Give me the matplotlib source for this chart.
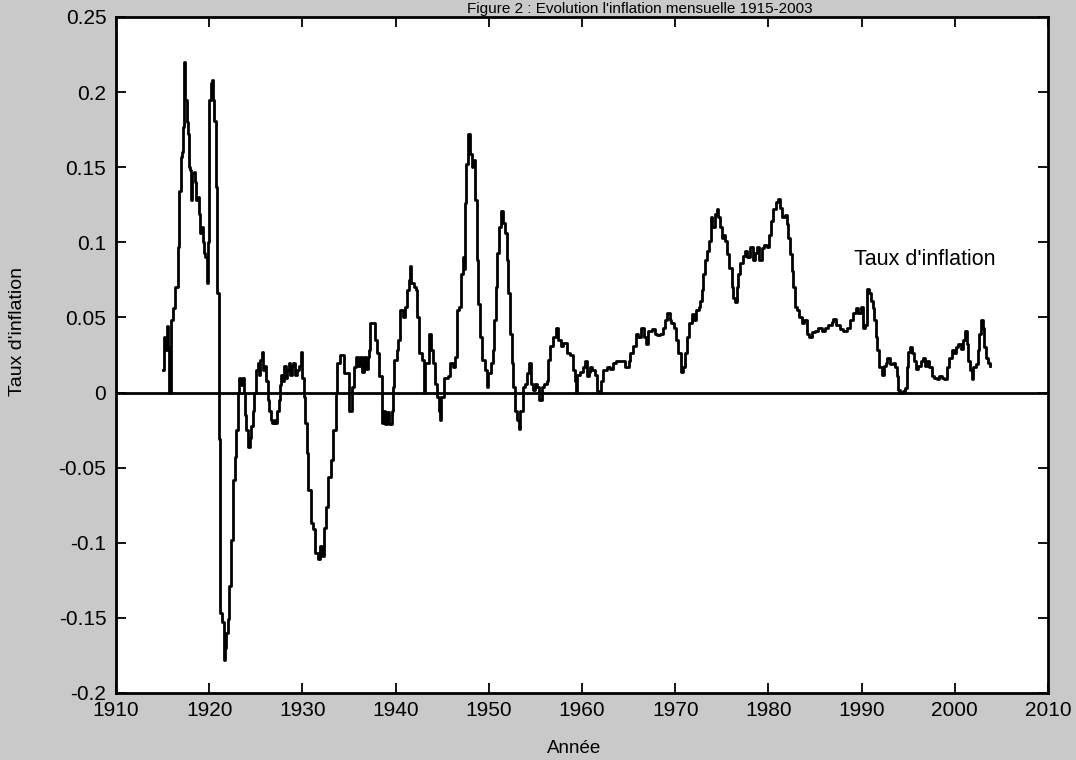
import matplotlib
matplotlib.use("Agg")
import matplotlib.pyplot as plt

# ---- monthly inflation ----
YEARS = [
    1915.00, 1915.15, 1915.30, 1915.45, 1915.60, 1915.70, 1915.85, 1916.10, 1916.35, 1916.60,
    1916.80, 1916.95, 1917.10, 1917.15, 1917.25, 1917.35, 1917.45, 1917.60, 1917.75, 1917.85,
    1917.95, 1918.05, 1918.20, 1918.35, 1918.50, 1918.60, 1918.75, 1918.90, 1919.05, 1919.20,
    1919.30, 1919.45, 1919.60, 1919.75, 1919.85, 1919.92, 1920.00, 1920.15, 1920.30, 1920.45,
    1920.55, 1920.70, 1920.85, 1921.00, 1921.10, 1921.20, 1921.40, 1921.55, 1921.70, 1921.85,
    1922.00, 1922.15, 1922.35, 1922.55, 1922.75, 1922.90, 1923.05, 1923.20, 1923.35, 1923.50,
    1923.70, 1923.85, 1924.00, 1924.20, 1924.35, 1924.50, 1924.65, 1924.80, 1925.00, 1925.20,
    1925.35, 1925.50, 1925.65, 1925.80, 1925.95, 1926.10, 1926.30, 1926.45, 1926.60, 1926.75,
    1926.95, 1927.10, 1927.30, 1927.45, 1927.60, 1927.75, 1927.90, 1928.05, 1928.20, 1928.40,
    1928.55, 1928.70, 1928.85, 1929.00, 1929.20, 1929.40, 1929.60, 1929.80, 1930.00, 1930.15,
    1930.30, 1930.47, 1930.65, 1930.94, 1931.19, 1931.37, 1931.65, 1931.90, 1932.15, 1932.37,
    1932.51, 1932.80, 1933.09, 1933.33, 1933.58, 1933.75, 1934.00, 1934.45, 1935.00, 1935.35,
    1935.50, 1935.75, 1936.00, 1936.20, 1936.40, 1936.60, 1936.80, 1937.00, 1937.10, 1937.25,
    1937.80, 1938.00, 1938.25, 1938.50, 1938.70, 1938.90, 1939.10, 1939.30, 1939.60, 1939.70,
    1939.80, 1940.10, 1940.30, 1940.50, 1940.75, 1941.00, 1941.20, 1941.40, 1941.50, 1941.70,
    1942.00, 1942.20, 1942.30, 1942.50, 1942.80, 1943.00, 1943.15, 1943.45, 1943.60, 1943.80,
    1944.05, 1944.20, 1944.40, 1944.65, 1944.75, 1944.90, 1945.20, 1945.65, 1945.85, 1946.20,
    1946.40, 1946.55, 1946.80, 1947.00, 1947.20, 1947.30, 1947.45, 1947.60, 1947.80, 1947.98,
    1948.15, 1948.33, 1948.50, 1948.70, 1948.87, 1949.05, 1949.30, 1949.60, 1949.77, 1949.95,
    1950.20, 1950.40, 1950.55, 1950.80, 1950.90, 1951.10, 1951.27, 1951.50, 1951.70, 1951.90,
    1952.10, 1952.27, 1952.45, 1952.63, 1952.80, 1953.05, 1953.25, 1953.40, 1953.63, 1953.88,
    1954.13, 1954.30, 1954.50, 1954.70, 1954.95, 1955.20, 1955.40, 1955.67, 1955.90, 1956.20,
    1956.40, 1956.55, 1956.90, 1957.20, 1957.45, 1957.70, 1958.00, 1958.35, 1958.70, 1959.00,
    1959.25, 1959.35, 1959.50, 1959.80, 1960.14, 1960.30, 1960.50, 1960.70, 1960.90, 1961.10,
    1961.40, 1961.64, 1961.85, 1962.00, 1962.30, 1962.65, 1963.00, 1963.36, 1963.70, 1964.25,
    1964.60, 1965.00, 1965.20, 1965.50, 1965.80, 1966.00, 1966.30, 1966.60, 1966.90, 1967.10,
    1967.50, 1967.80, 1968.10, 1968.40, 1968.65, 1968.90, 1969.10, 1969.40, 1969.60, 1969.90,
    1970.10, 1970.30, 1970.60, 1970.80, 1971.05, 1971.30, 1971.50, 1971.80, 1972.00, 1972.20,
    1972.50, 1972.70, 1972.84, 1973.00, 1973.20, 1973.45, 1973.66, 1973.80, 1974.00, 1974.27,
    1974.45, 1974.60, 1974.80, 1975.00, 1975.16, 1975.34, 1975.60, 1975.80, 1976.05, 1976.20,
    1976.40, 1976.60, 1976.77, 1976.95, 1977.24, 1977.50, 1977.74, 1978.00, 1978.30, 1978.56,
    1978.80, 1979.00, 1979.27, 1979.50, 1979.80, 1980.10, 1980.28, 1980.50, 1980.80, 1981.06,
    1981.24, 1981.50, 1981.78, 1981.96, 1982.13, 1982.30, 1982.50, 1982.67, 1982.85, 1983.10,
    1983.30, 1983.57, 1983.80, 1984.10, 1984.40, 1984.64, 1985.00, 1985.36, 1985.70, 1986.07,
    1986.40, 1986.80, 1986.97, 1987.30, 1987.70, 1988.04, 1988.40, 1988.75, 1989.04, 1989.40,
    1989.65, 1989.90, 1990.10, 1990.36, 1990.54, 1990.80, 1990.97, 1991.20, 1991.33, 1991.55,
    1991.70, 1991.90, 1992.15, 1992.40, 1992.60, 1992.76, 1993.05, 1993.33, 1993.58, 1993.76,
    1993.94, 1994.12, 1994.40, 1994.66, 1994.83, 1995.00, 1995.20, 1995.37, 1995.62, 1995.84,
    1996.09, 1996.34, 1996.55, 1996.80, 1996.98, 1997.27, 1997.52, 1997.77, 1998.05, 1998.34,
    1998.59, 1998.84, 1999.13, 1999.41, 1999.66, 1999.90, 2000.13, 2000.38, 2000.63, 2000.84,
    2001.09, 2001.27, 2001.45, 2001.63, 2001.80, 2001.98, 2002.24, 2002.45, 2002.63, 2002.80,
    2002.99, 2003.17, 2003.35, 2003.60, 2003.78,
]
RATES = [
    0.015, 0.037, 0.028, 0.044, 0.030, 0.000, 0.048, 0.056, 0.070, 0.097,
    0.134, 0.157, 0.160, 0.177, 0.220, 0.205, 0.195, 0.180, 0.172, 0.150,
    0.148, 0.128, 0.146, 0.147, 0.140, 0.128, 0.130, 0.119, 0.106, 0.110,
    0.100, 0.093, 0.090, 0.073, 0.085, 0.100, 0.195, 0.206, 0.208, 0.195,
    0.181, 0.137, 0.066, 0.000, -0.031, -0.147, -0.153, -0.178, -0.170, -0.160,
    -0.151, -0.129, -0.098, -0.058, -0.043, -0.025, 0.000, 0.010, 0.005, 0.010,
    0.000, -0.015, -0.025, -0.036, -0.030, -0.022, -0.012, 0.000, 0.015, 0.020,
    0.012, 0.022, 0.027, 0.015, 0.018, 0.008, -0.005, -0.012, -0.018, -0.020,
    -0.018, -0.020, -0.012, -0.005, 0.005, 0.012, 0.008, 0.018, 0.010, 0.015,
    0.020, 0.012, 0.018, 0.020, 0.012, 0.015, 0.018, 0.027, 0.010, -0.003,
    -0.020, -0.040, -0.065, -0.087, -0.091, -0.107, -0.111, -0.102, -0.109, -0.090,
    -0.076, -0.056, -0.045, -0.025, 0.000, 0.020, 0.025, 0.013, -0.012, 0.004,
    0.017, 0.024, 0.018, 0.024, 0.014, 0.024, 0.016, 0.024, 0.028, 0.046,
    0.035, 0.026, 0.011, -0.020, -0.012, -0.021, -0.013, -0.021, -0.012, 0.004,
    0.022, 0.028, 0.035, 0.055, 0.050, 0.057, 0.068, 0.075, 0.084, 0.073,
    0.070, 0.068, 0.050, 0.026, 0.022, 0.000, 0.020, 0.020, 0.039, 0.028,
    0.020, 0.006, -0.003, -0.012, -0.018, -0.003, 0.010, 0.011, 0.020, 0.017,
    0.024, 0.055, 0.057, 0.079, 0.090, 0.082, 0.126, 0.152, 0.172, 0.159,
    0.150, 0.155, 0.128, 0.088, 0.059, 0.037, 0.022, 0.015, 0.004, 0.013,
    0.020, 0.028, 0.048, 0.070, 0.093, 0.110, 0.121, 0.113, 0.106, 0.088,
    0.066, 0.039, 0.020, 0.004, -0.012, -0.018, -0.024, -0.012, 0.004, 0.006,
    0.013, 0.020, 0.006, 0.002, 0.006, 0.004, -0.005, 0.004, 0.006, 0.008,
    0.022, 0.031, 0.037, 0.043, 0.035, 0.031, 0.033, 0.026, 0.025, 0.015,
    0.008, 0.000, 0.012, 0.0135, 0.017, 0.021, 0.011, 0.0135, 0.017, 0.015,
    0.012, 0.001, 0.000, 0.008, 0.015, 0.017, 0.016, 0.020, 0.021, 0.021,
    0.017, 0.021, 0.026, 0.031, 0.039, 0.037, 0.043, 0.037, 0.032, 0.041,
    0.042, 0.039, 0.038, 0.039, 0.043, 0.048, 0.053, 0.048, 0.046, 0.043,
    0.035, 0.026, 0.0135, 0.017, 0.026, 0.037, 0.046, 0.052, 0.048, 0.055,
    0.057, 0.061, 0.068, 0.079, 0.088, 0.094, 0.101, 0.117, 0.110, 0.119,
    0.122, 0.117, 0.110, 0.103, 0.105, 0.101, 0.092, 0.083, 0.070, 0.063,
    0.060, 0.070, 0.079, 0.086, 0.091, 0.094, 0.090, 0.097, 0.088, 0.093,
    0.097, 0.088, 0.096, 0.098, 0.097, 0.105, 0.114, 0.122, 0.127, 0.129,
    0.123, 0.117, 0.118, 0.112, 0.103, 0.092, 0.081, 0.070, 0.057, 0.055,
    0.050, 0.046, 0.048, 0.039, 0.037, 0.040, 0.041, 0.043, 0.041, 0.043,
    0.045, 0.047, 0.049, 0.045, 0.042, 0.041, 0.043, 0.048, 0.053, 0.056,
    0.053, 0.057, 0.043, 0.045, 0.069, 0.066, 0.061, 0.056, 0.048, 0.037,
    0.028, 0.017, 0.012, 0.018, 0.020, 0.023, 0.019, 0.020, 0.017, 0.011,
    0.002, 0.000, 0.001, 0.003, 0.017, 0.027, 0.030, 0.026, 0.021, 0.016,
    0.018, 0.021, 0.023, 0.018, 0.021, 0.017, 0.011, 0.010, 0.009, 0.011,
    0.010, 0.009, 0.017, 0.023, 0.028, 0.026, 0.030, 0.032, 0.029, 0.035,
    0.041, 0.032, 0.021, 0.015, 0.009, 0.017, 0.019, 0.028, 0.039, 0.048,
    0.043, 0.030, 0.023, 0.020, 0.018,
]

X_TICKS = [1910, 1920, 1930, 1940, 1950, 1960, 1970, 1980, 1990, 2000, 2010]
Y_TICKS = [-0.2, -0.15, -0.1, -0.05, 0, 0.05, 0.1, 0.15, 0.2, 0.25]
Y_TICK_LABELS = ["-0.2", "-0.15", "-0.1", "-0.05", "0", "0.05", "0.1", "0.15", "0.2", "0.25"]

plt.rcParams["font.family"] = ["Liberation Sans", "DejaVu Sans"]
plt.rcParams["axes.unicode_minus"] = False

W, H = 1076, 760
fig = plt.figure(figsize=(W / 100, H / 100), dpi=100, facecolor="#c9c9c9")
ax = fig.add_axes([116 / W, 1 - 693 / H, 932 / W, 676 / H])
ax.set_facecolor("white")

ax.plot(YEARS, RATES, color="black", lw=2.0, drawstyle="steps-post")
ax.axhline(0, color="black", lw=2.0)

ax.set_xlim(1910, 2010)
ax.set_ylim(-0.2, 0.25)
ax.set_xticks(X_TICKS)
ax.set_yticks(Y_TICKS)
ax.set_yticklabels(Y_TICK_LABELS)
ax.tick_params(direction="in", length=7, width=1.3, top=True, right=True,
               labelsize=15)
ax.tick_params(axis="y", pad=7)
ax.tick_params(axis="x", pad=6)
for sp in ax.spines.values():
    sp.set_linewidth(2.0)

ax.text(1996.8, 0.0885, "Taux d'inflation", fontsize=15.5,
        ha="center", va="center")

ax.set_xlabel("Année", fontsize=13.5)
ax.xaxis.set_label_coords(0.491, -0.07)
ax.set_ylabel("Taux d'inflation", fontsize=14)
ax.yaxis.set_label_coords(-0.097, 0.535)

# title sits right at the top edge of the scan
fig.text(640 / W, 1 - 13 / H, "Figure 2 : Evolution l'inflation mensuelle 1915-2003",
         ha="center", va="baseline", fontsize=11)

fig.savefig("out.png", dpi=100, facecolor=fig.get_facecolor())
